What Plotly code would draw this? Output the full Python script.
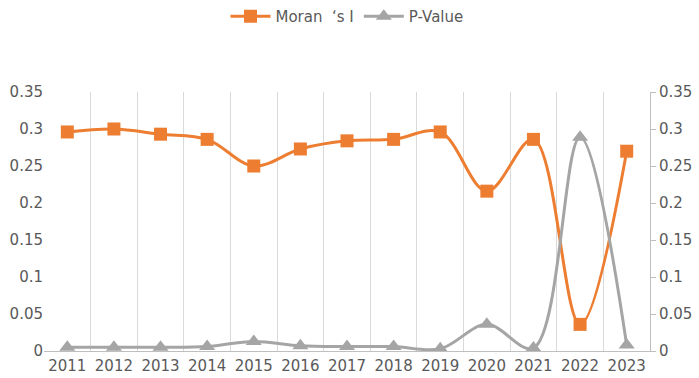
import plotly.graph_objects as go

years = ["2011", "2012", "2013", "2014", "2015", "2016", "2017", "2018", "2019", "2020", "2021", "2022", "2023"]
moran_i = [0.296, 0.300, 0.293, 0.286, 0.250, 0.273, 0.284, 0.286, 0.296, 0.216, 0.286, 0.036, 0.270]
p_value = [0.005, 0.005, 0.005, 0.006, 0.013, 0.007, 0.006, 0.006, 0.003, 0.036, 0.004, 0.289, 0.008]
y_ticks = [0, 0.05, 0.1, 0.15, 0.2, 0.25, 0.3, 0.35]

ORANGE = "#ED7D31"
GRAY = "#A5A5A5"
TEXT = "#595959"
FONT = "DejaVu Sans, Noto Sans, sans-serif"

fig = go.Figure()
fig.add_trace(go.Scatter(
    x=years, y=moran_i, name="Moran  ‘s I", mode="lines+markers",
    line=dict(color=ORANGE, width=3, shape="spline", smoothing=1),
    marker=dict(symbol="square", size=13, color=ORANGE),
))
fig.add_trace(go.Scatter(
    x=years, y=p_value, name="P-Value", mode="lines+markers", yaxis="y2",
    line=dict(color=GRAY, width=3, shape="spline", smoothing=1),
    marker=dict(symbol="triangle-up", size=14, color=GRAY),
))

fig.update_layout(
    width=699, height=378,
    margin=dict(l=44, r=49, t=92, b=27),
    paper_bgcolor="white", plot_bgcolor="white",
    font=dict(family=FONT, size=14, color=TEXT),
    showlegend=True,
    legend=dict(orientation="h", x=0.5, xanchor="center", y=1.0, yanchor="top",
                yref="container", font=dict(size=15, color=TEXT),
                itemwidth=40, tracegroupgap=0),
    xaxis=dict(type="category", tickson="boundaries", showgrid=True,
               range=[-0.5, len(years) - 0.5],
               gridcolor="#D9D9D9", gridwidth=1, ticks="", showline=True,
               linecolor="#BFBFBF", linewidth=1, tickfont=dict(size=15, color=TEXT),
               zeroline=False, automargin=False, ticklabelstandoff=1),
    yaxis=dict(range=[0, 0.35], tickvals=y_ticks, showgrid=False, zeroline=False,
               showline=False, ticks="", tickfont=dict(size=15, color=TEXT),
               automargin=False),
    yaxis2=dict(range=[0, 0.35], tickvals=y_ticks, overlaying="y", side="right",
                showgrid=False, zeroline=False, showline=True, linecolor="#BFBFBF",
                linewidth=1, ticks="outside", ticklen=5, tickcolor="#BFBFBF",
                tickfont=dict(size=15, color=TEXT), automargin=False),
)

fig.write_html("out.html", config={"displayModeBar": False},
               post_script="document.body.style.margin='0';")
